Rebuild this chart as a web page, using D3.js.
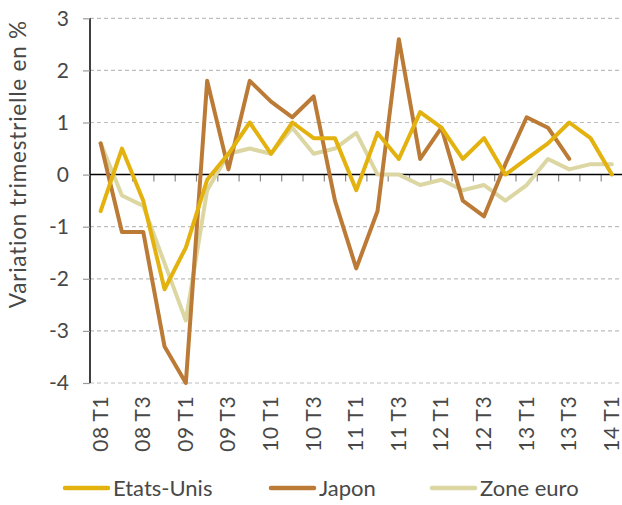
<!DOCTYPE html>
<html>
<head>
<meta charset="utf-8">
<script src="https://cdn.jsdelivr.net/npm/d3@7"></script>
<style>
  html, body { margin: 0; padding: 0; background: #fff; }
  svg text { font-family: Lato, "Open Sans", sans-serif; font-weight: 400; fill: #484848; }
</style>
</head>
<body>
<svg id="chart" width="622" height="505"></svg>
<script>
// Quarterly GDP change (%), 2008 Q1 – 2014 Q1
const quarters = [
  "08 T1","08 T2","08 T3","08 T4",
  "09 T1","09 T2","09 T3","09 T4",
  "10 T1","10 T2","10 T3","10 T4",
  "11 T1","11 T2","11 T3","11 T4",
  "12 T1","12 T2","12 T3","12 T4",
  "13 T1","13 T2","13 T3","13 T4",
  "14 T1"
];
const etatsUnis = [-0.7, 0.5, -0.5, -2.2, -1.4, -0.1, 0.4, 1.0, 0.4, 1.0, 0.7, 0.7, -0.3, 0.8, 0.3, 1.2, 0.9, 0.3, 0.7, 0.0, 0.3, 0.6, 1.0, 0.7, 0.0];
const japon     = [0.6, -1.1, -1.1, -3.3, -4.0, 1.8, 0.1, 1.8, 1.4, 1.1, 1.5, -0.5, -1.8, -0.7, 2.6, 0.3, 0.9, -0.5, -0.8, 0.2, 1.1, 0.9, 0.3];
const zoneEuro  = [0.6, -0.4, -0.6, -1.7, -2.8, -0.3, 0.4, 0.5, 0.4, 0.9, 0.4, 0.5, 0.8, 0.0, 0.0, -0.2, -0.1, -0.3, -0.2, -0.5, -0.2, 0.3, 0.1, 0.2, 0.2];
const yTicks = [3, 2, 1, 0, -1, -2, -3, -4];
const labelQuarters = quarters.filter((q, i) => i % 2 === 0);

const series = [
  { name: "Etats-Unis", values: etatsUnis, color: "#e3b20f" },
  { name: "Japon",      values: japon,     color: "#bb7b36" },
  { name: "Zone euro",  values: zoneEuro,  color: "#dcd6a2" }
];

const svg = d3.select("#chart");
const plotLeft = 90, plotTop = 18.3, plotBottom = 383;
const step = 21.3;

const x = d3.scaleBand().domain(quarters).range([plotLeft, plotLeft + step * quarters.length]);
const y = d3.scaleLinear().domain([-4, 3]).range([plotBottom, plotTop]);
const cx = q => x(q) + x.bandwidth() / 2;

// horizontal gridlines
svg.append("g").selectAll("line")
  .data(yTicks.filter(v => v !== 0))
  .join("line")
  .attr("x1", plotLeft).attr("x2", 622)
  .attr("y1", d => y(d)).attr("y2", d => y(d))
  .attr("stroke", "#bdbdbd").attr("stroke-width", 1.2)
  .attr("stroke-dasharray", "4,3");

// y axis with left ticks
const yAxis = d3.axisLeft(y).tickValues(yTicks).tickSize(7).tickPadding(14)
  .tickFormat(d => d < 0 ? "-" + Math.abs(d) : d);
const gy = svg.append("g").attr("transform", `translate(${plotLeft},0)`).call(yAxis);
gy.select(".domain").attr("stroke", "#000").attr("stroke-width", 1.5)
  .attr("d", `M0,${plotTop}V${plotBottom}`);
gy.selectAll(".tick line").attr("stroke", "#9a9a9a").attr("stroke-width", 1.2);
gy.selectAll(".tick text").attr("font-size", 21)
  .attr("font-family", "Lato, sans-serif");

// quarter ticks below the zero line
svg.append("g").selectAll("line")
  .data(quarters.slice(1))
  .join("line")
  .attr("x1", d => x(d)).attr("x2", d => x(d))
  .attr("y1", y(0)).attr("y2", y(0) + 7)
  .attr("stroke", "#8a8a8a").attr("stroke-width", 1.2);

// zero line
svg.append("line")
  .attr("x1", plotLeft).attr("x2", 622)
  .attr("y1", y(0)).attr("y2", y(0))
  .attr("stroke", "#000").attr("stroke-width", 1.5);

// x labels, rotated
svg.append("g").selectAll("text")
  .data(labelQuarters)
  .join("text")
  .attr("transform", d => `translate(${cx(d) + 7},${plotBottom + 13}) rotate(-90)`)
  .attr("text-anchor", "end")
  .attr("font-size", 21)
  .attr("letter-spacing", 0.4)
  .text(d => d);

// y axis title
svg.append("text")
  .attr("transform", `translate(26,${(plotTop + 310) / 2}) rotate(-90)`)
  .attr("text-anchor", "middle")
  .attr("font-size", 22.5)
  .attr("letter-spacing", 0.8)
  .text("Variation trimestrielle en %");

// series lines
const line = d3.line()
  .x((d, i) => cx(quarters[i]))
  .y(d => y(d));

svg.append("g").selectAll("path")
  .data(series.slice().reverse())
  .join("path")
  .attr("d", d => line(d.values))
  .attr("fill", "none")
  .attr("stroke", d => d.color)
  .attr("stroke-width", 4)
  .attr("stroke-linejoin", "round")
  .attr("stroke-linecap", "round");

// legend
const legendX = [63, 269, 430];
const lg = svg.append("g").selectAll("g")
  .data(series)
  .join("g")
  .attr("transform", (d, i) => `translate(${legendX[i]},488)`);
lg.append("line")
  .attr("x1", 2).attr("x2", 45)
  .attr("stroke", d => d.color).attr("stroke-width", 4.5)
  .attr("stroke-linecap", "round");
lg.append("text")
  .attr("x", 50).attr("y", 8)
  .attr("font-size", 22)
  .text(d => d.name);
</script>
</body>
</html>
